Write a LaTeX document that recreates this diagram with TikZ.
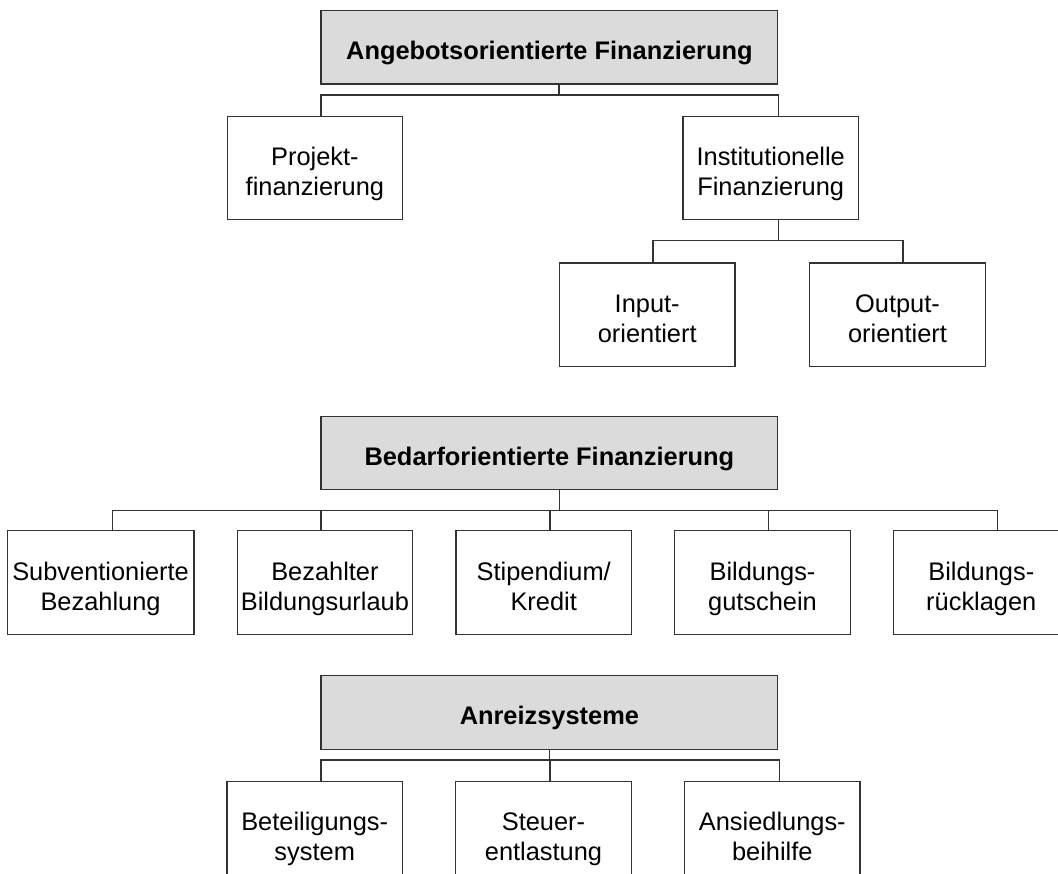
\documentclass[tikz,border=0pt]{standalone}
\usepackage{fontspec}
\setmainfont{Liberation Sans}
\usepackage{tikz}
\usetikzlibrary{positioning}
\definecolor{randgrau}{gray}{0.2}
\definecolor{kopfgrau}{gray}{0.86}
% two lines of box text, set a bit low as in the original
\newcommand{\zweizeilig}[2]{\rule{0pt}{34pt}#1\\#2\strut}
\tikzset{
    %Define style for header boxes
    kopf/.style={
           rectangle,
           draw=randgrau, line width=1.3pt,
           fill=kopfgrau,
           minimum width=456.7pt,
           minimum height=73.5pt,
           font=\fontsize{25.4pt}{30pt}\selectfont\bfseries,
           execute at begin node={\rule{0pt}{33.5pt}},
           execute at end node=\strut,
           text centered},
    %Define style for boxes
    kasten/.style={
           rectangle,
           draw=randgrau, line width=1.3pt,
           fill=white,
           inner sep=0pt,
           minimum width=175.5pt,
           minimum height=103.5pt,
           font=\fontsize{25.4pt}{30pt}\selectfont,
           align=center},
    % Define line style
    linie/.style={
           draw=randgrau,
           line width=1.3pt}
}
\begin{document}
\begin{tikzpicture}[x=1pt,y=1pt]
\useasboundingbox (0,0) rectangle (1058,874);
% Angebot
\node[kopf, execute at begin node={\rule[-10pt]{0pt}{10pt}}, execute at end node={}] (1) at (549.4,826.6) {Angebotsorientierte Finanzierung};
\node[kasten, below=30.85pt of 1.south west, xshift=-5.5pt] (2) {\zweizeilig{Projekt-}{finanzierung}};
\node[kasten, right=279pt of 2] (3) {\zweizeilig{Institutionelle}{Finanzierung}};
\node[kasten, below=42pt of 3.south, xshift=-123.5pt] (4) {\zweizeilig{Input-}{orientiert}};
\node[kasten, right=73.5pt of 4] (5) {\zweizeilig{Output-}{orientiert}};
% Bedarf
\node[kopf, below=330.8pt of 1] (6) {Bedarforientierte Finanzierung};
\node[kasten, below=39.8pt of 6.south west, xshift=4.5pt] (8) {\zweizeilig{Bezahlter}{Bildungsurlaub}};
\node[kasten, left=42pt of 8, minimum width=186.6pt] (7) {\zweizeilig{Subventionierte}{Bezahlung}};
\node[kasten, right=42pt of 8] (9) {\zweizeilig{Stipendium/}{Kredit}};
\node[kasten, right=42pt of 9] (10) {\zweizeilig{Bildungs-}{gutschein}};
\node[kasten, right=42pt of 10] (11) {\zweizeilig{Bildungs-}{rücklagen}};
% Anreiz
\node[kopf, below=184.8pt of 6] (12) {Anreizsysteme};
\node[kasten, below=30.7pt of 12.south west, xshift=-5.7pt] (13) {\zweizeilig{Beteiligungs-}{system}};
\node[kasten, right=52pt of 13] (14) {\zweizeilig{Steuer-}{entlastung}};
\node[kasten, right=52pt of 14] (15) {\zweizeilig{Ansiedlungs-}{beihilfe}};

\draw[linie] ([xshift=9.6pt]1.south) -- ++(0,-10.1) -| ([xshift=6pt]2.north);
\draw[linie] ([xshift=9.6pt]1.south) -- ++(0,-10.1) -| ([xshift=7.7pt]3.north);
\draw[linie] ([xshift=7.7pt]3.south) -- ++(0,-19.8) -| ([xshift=5.8pt]4.north);
\draw[linie] ([xshift=7.7pt]3.south) -- ++(0,-19.8) -| ([xshift=5.5pt]5.north);

\draw[linie] ([xshift=9.9pt]6.south) -- ++(0,-19.85) -| ([xshift=11.8pt]7.north);
\draw[linie] ([xshift=9.9pt]6.south) -- ++(0,-19.85) -| ([xshift=-3.8pt]8.north);
\draw[linie] ([xshift=9.9pt]6.south) -- ++(0,-19.85) -| ([xshift=6.3pt]9.north);
\draw[linie] ([xshift=9.9pt]6.south) -- ++(0,-19.85) -| ([xshift=5.8pt]10.north);
\draw[linie] ([xshift=9.9pt]6.south) -- ++(0,-19.85) -| ([xshift=16.3pt]11.north);

\draw[linie] (12.south) -- ++(0,-9.95) -| ([xshift=6.4pt]13.north);
\draw[linie] (12.south) -- ++(0,-9.95) -| ([xshift=6.5pt]14.north);
\draw[linie] (12.south) -- ++(0,-9.95) -| ([xshift=7pt]15.north);
\end{tikzpicture}
\end{document}
